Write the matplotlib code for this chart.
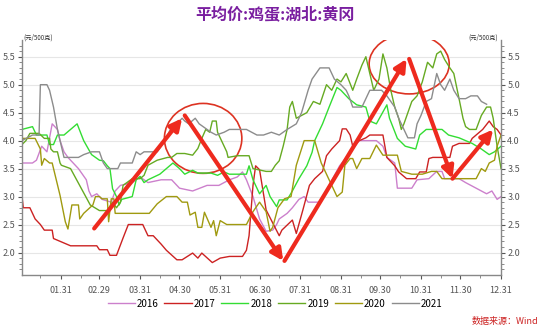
import matplotlib
matplotlib.use("Agg")
import matplotlib.pyplot as plt
from matplotlib.patches import Ellipse

plt.rcParams['font.family'] = ['Noto Sans CJK SC', 'DejaVu Sans']

# day of year (0 = Jan 1, leap-year base), price in 元/500克
d2016 = [0, 8, 11, 15, 19, 23, 27, 29, 32, 35, 43, 46, 49, 51, 53, 57, 61, 68, 71, 75, 84, 90, 96, 106, 114, 120, 130,
         141, 150, 158, 164, 168, 171, 176, 181, 186, 191, 194, 196, 202, 206, 211, 215, 218, 227, 234, 242, 252, 257,
         270, 275, 278, 284, 286, 297, 301, 310, 316, 320, 322, 333, 338, 346, 350, 354, 358, 362, 365]
v2016 = [3.6, 3.6, 3.65, 3.9, 3.8, 4.3, 4.2, 4.0, 3.8, 3.7, 3.5, 3.4, 3.3, 3.1, 3.0, 3.05, 2.95, 2.9, 3.1, 3.2, 3.25,
         3.35, 3.25, 3.3, 3.3, 3.15, 3.1, 3.2, 3.2, 3.3, 3.35, 3.44, 3.3, 3.0, 2.6, 2.38, 2.4, 2.5, 2.6, 2.7, 2.8, 2.95,
         3.0, 2.9, 2.9, 3.2, 3.55, 3.85, 4.0, 4.0, 3.9, 3.7, 3.6, 3.15, 3.15, 3.3, 3.32, 3.45, 3.45, 3.32, 3.32, 3.25,
         3.15, 3.1, 3.05, 3.1, 2.95, 3.0]

d2017 = [0, 1, 6, 8, 10, 14, 17, 23, 24, 29, 37, 57, 59, 65, 67, 72, 77, 81, 92, 96, 100, 106, 110, 118, 122, 130, 134,
         137, 145, 151, 158, 168, 171, 173, 176, 178, 181, 186, 196, 198, 206, 209, 214, 219, 223, 229, 232, 236, 242,
         244, 247, 250, 252, 257, 262, 265, 275, 278, 284, 287, 293, 300, 303, 308, 310, 313, 326, 328, 333, 341, 343,
         351, 356, 359, 362, 365]
v2017 = [3.0, 2.8, 2.8, 2.7, 2.6, 2.5, 2.4, 2.4, 2.25, 2.2, 2.12, 2.12, 2.05, 2.05, 1.95, 1.95, 2.26, 2.5, 2.5, 2.3, 2.3,
         2.15, 2.04, 1.87, 1.87, 1.99, 1.9, 1.99, 1.82, 1.9, 1.93, 1.93, 2.04, 2.3, 3.2, 3.55, 3.48, 2.76, 2.3, 2.4,
         2.58, 2.34, 2.76, 3.2, 3.32, 3.45, 3.73, 3.85, 4.0, 4.21, 4.21, 4.1, 3.9, 4.0, 4.05, 4.1, 4.1, 3.7, 3.55,
         3.44, 3.32, 3.32, 3.44, 3.44, 3.68, 3.7, 3.7, 3.9, 3.95, 3.95, 4.04, 4.2, 4.35, 4.25, 4.2, 4.1]

d2018 = [0, 8, 11, 19, 21, 24, 27, 32, 37, 42, 47, 53, 59, 62, 65, 67, 69, 72, 74, 76, 84, 87, 90, 93, 96, 105, 110,
         115, 120, 124, 130, 134, 144, 149, 154, 158, 171, 173, 176, 181, 186, 189, 194, 196, 202, 206, 211, 217, 221,
         223, 229, 234, 240, 243, 249, 255, 262, 265, 270, 278, 280, 286, 292, 300, 303, 308, 320, 325, 333, 343, 350,
         356, 360, 365]
v2018 = [4.2, 4.25, 4.1, 4.1, 3.93, 3.93, 4.1, 4.1, 4.2, 4.3, 4.0, 3.75, 3.65, 3.64, 3.55, 3.5, 3.14, 3.0, 2.85, 2.95,
         3.0, 3.3, 3.36, 3.25, 3.3, 3.4, 3.5, 3.6, 3.5, 3.4, 3.47, 3.42, 3.42, 3.38, 3.44, 3.4, 3.4, 3.55, 3.3, 3.05,
         3.2, 3.0, 2.82, 2.94, 2.94, 3.1, 3.32, 3.55, 3.79, 4.0, 4.3, 4.6, 4.95, 4.9, 4.75, 4.64, 4.6, 4.35, 4.3, 4.64,
         4.4, 4.04, 3.9, 3.85, 4.1, 4.2, 4.2, 4.1, 4.05, 3.95, 3.85, 3.75, 3.8, 3.9]

d2019 = [0, 3, 6, 13, 17, 21, 22, 24, 27, 29, 30, 37, 52, 59, 65, 69, 72, 75, 77, 84, 90, 93, 96, 103, 111, 114, 118,
         124, 130, 134, 137, 140, 143, 145, 148, 149, 152, 156, 157, 164, 173, 176, 186, 190, 193, 196, 199, 202, 204,
         206, 209, 213, 217, 222, 227, 232, 236, 240, 243, 247, 252, 255, 259, 262, 265, 268, 272, 275, 278, 281, 284,
         287, 289, 291, 294, 297, 301, 305, 309, 313, 316, 319, 322, 326, 329, 333, 336, 338, 341, 346, 350, 354, 357,
         359, 362, 365]
v2019 = [3.93, 4.0, 4.13, 4.13, 4.04, 4.04, 3.85, 3.8, 3.8, 3.6, 3.56, 3.5, 2.85, 2.75, 2.75, 2.9, 2.8, 2.9, 3.2, 3.32,
         3.32, 3.38, 3.56, 3.65, 3.7, 3.7, 3.77, 3.77, 3.74, 3.86, 4.04, 4.2, 4.15, 4.35, 4.35, 4.15, 4.0, 3.8, 3.7,
         3.73, 3.73, 3.5, 3.45, 3.45, 3.56, 3.64, 3.9, 4.2, 4.6, 4.7, 4.4, 4.45, 4.5, 4.7, 4.65, 5.0, 4.9, 5.1, 5.05,
         5.2, 4.9, 5.1, 5.35, 5.5, 5.2, 4.9, 5.1, 5.55, 5.3, 4.9, 4.6, 4.4, 4.2, 4.3, 4.5, 4.7, 4.8, 5.05, 5.4, 5.3,
         5.55, 5.6, 5.45, 5.3, 5.2, 4.75, 4.4, 4.25, 4.2, 4.2, 4.45, 4.6, 4.6, 4.4, 3.9, 3.5]

d2020 = [0, 10, 14, 15, 17, 21, 23, 29, 33, 35, 38, 43, 44, 47, 54, 56, 59, 61, 65, 66, 68, 70, 71, 97, 103, 110, 118,
         122, 126, 128, 132, 134, 137, 139, 144, 146, 148, 151, 156, 171, 176, 181, 186, 189, 191, 195, 200, 205, 209,
         215, 223, 228, 240, 244, 246, 250, 252, 255, 259, 265, 270, 275, 286, 289, 297, 305, 312, 316, 320, 346, 350,
         353, 356, 360, 362, 365]
v2020 = [4.04, 4.04, 3.85, 3.56, 3.68, 3.6, 3.6, 3.02, 2.55, 2.42, 2.85, 2.85, 2.6, 2.7, 2.85, 3.0, 3.0, 2.96, 2.96,
         2.55, 2.96, 2.96, 2.7, 2.7, 2.87, 3.0, 3.0, 2.9, 2.9, 2.67, 2.72, 2.45, 2.45, 2.72, 2.45, 2.57, 2.3, 2.57,
         2.5, 2.5, 2.73, 2.9, 2.73, 2.38, 2.45, 2.8, 2.96, 3.0, 3.56, 4.0, 4.0, 3.6, 3.0, 3.08, 3.56, 3.68, 3.68, 3.5,
         3.68, 3.68, 3.92, 3.74, 3.74, 3.45, 3.4, 3.4, 3.45, 3.45, 3.32, 3.32, 3.5, 3.45, 3.6, 3.65, 3.9, 4.1]

d2021 = [0, 8, 13, 14, 19, 21, 24, 27, 29, 32, 43, 47, 53, 59, 62, 65, 73, 75, 84, 87, 90, 93, 103, 106, 111, 114, 118,
         122, 124, 127, 132, 135, 141, 144, 148, 154, 158, 171, 179, 184, 190, 196, 202, 209, 213, 218, 221, 227, 234,
         238, 243, 247, 249, 252, 259, 262, 265, 274, 278, 284, 287, 291, 294, 299, 301, 304, 308, 312, 316, 319, 322,
         326, 329, 333, 338, 342, 347, 350, 354]
v2021 = [4.0, 4.1, 4.1, 5.0, 5.0, 4.9, 4.6, 4.2, 4.0, 3.7, 3.7, 3.75, 3.8, 3.8, 3.6, 3.5, 3.5, 3.6, 3.6, 3.8, 3.75, 3.8,
         3.8, 3.9, 4.1, 4.25, 4.3, 4.4, 4.35, 4.3, 4.4, 4.3, 4.2, 4.15, 4.1, 4.15, 4.2, 4.2, 4.1, 4.1, 4.15, 4.1, 4.2,
         4.3, 4.5, 4.9, 5.1, 5.3, 5.3, 5.1, 5.0, 4.9, 4.8, 4.6, 4.6, 4.75, 4.9, 4.9, 4.8, 4.6, 4.4, 4.2, 4.05, 4.05,
         4.3, 4.45, 4.7, 4.75, 5.2, 5.0, 4.9, 5.1, 4.9, 4.75, 4.75, 4.8, 4.8, 4.7, 4.65]

years = ['2016', '2017', '2018', '2019', '2020', '2021']
colors = ['#cc80cc', '#cc2222', '#33dd33', '#66aa22', '#a09a10', '#8c8c8c']
series = [(d2016, v2016), (d2017, v2017), (d2018, v2018), (d2019, v2019), (d2020, v2020), (d2021, v2021)]

tick_days = [30, 59, 90, 120, 151, 181, 212, 243, 273, 304, 334, 365]
tick_labels = ['01.31', '02.29', '03.31', '04.30', '05.31', '06.30', '07.31', '08.31', '09.30', '10.31', '11.30', '12.31']

# annotation arrows (start day, start value, end day, end value) and circles
arrows = [(55, 2.43, 122, 4.4), (124, 4.45, 199, 1.85), (200, 1.85, 293, 5.46),
          (295, 5.46, 328, 3.32), (328, 3.32, 359, 4.2)]
circles = [(138, 4.04, 59, 1.25), (295, 5.37, 61, 1.07)]

fig = plt.figure(figsize=(5.5, 3.3), dpi=100)
ax = fig.add_axes([0.04, 0.167, 0.871, 0.712])

for (d, v), yr, c in zip(series, years, colors):
    ax.plot(d, v, color=c, lw=1.0, label=yr)

for x0, y0, x1, y1 in arrows:
    ax.annotate('', xy=(x1, y1), xytext=(x0, y0),
                arrowprops=dict(arrowstyle='-|>,head_length=0.7,head_width=0.35', lw=3,
                                color='#ee2a1e', shrinkA=0, shrinkB=0))
for cx, cy, w, h in circles:
    ax.add_patch(Ellipse((cx, cy), w, h, fill=False, edgecolor='#dd3322', lw=1.2))

ax.set_xlim(0, 365)
ax.set_ylim(1.6, 5.8)
ax.set_xticks(tick_days)
ax.set_xticklabels(tick_labels)
ax.set_xticks([14, 45, 74, 105, 135, 166, 196, 227, 258, 288, 319, 349], minor=True)
ax.set_yticks([2.0, 2.5, 3.0, 3.5, 4.0, 4.5, 5.0, 5.5])
ax.set_yticks([x / 10 for x in range(17, 58)], minor=True)
ax.tick_params(axis='both', labelsize=6.5, colors='#555555', length=3, width=0.8)
ax.tick_params(axis='both', which='minor', length=2, colors='#777777')
ax.tick_params(axis='y', right=True, labelright=True, which='both', pad=1.5)
ax.tick_params(axis='x', pad=5)
ax.grid(axis='y', color='#e6e6e6', lw=0.8)
ax.set_axisbelow(True)
for s in ['left', 'right', 'bottom']:
    ax.spines[s].set_color('#888888')
    ax.spines[s].set_linewidth(1.0)
ax.spines['top'].set_visible(False)

fig.text(0.5, 0.955, '平均价:鸡蛋:湖北:黄冈', ha='center', va='center', fontsize=11.5,
         fontweight='bold', color='#7a1fa0')
fig.text(0.042, 0.875, '(元/500克)', fontsize=4.5, color='#333333', va='bottom')
fig.text(0.905, 0.875, '(元/500克)', fontsize=4.5, color='#333333', va='bottom', ha='right')
fig.text(0.978, 0.018, '数据来源：Wind', fontsize=6.5, color='#cc2222', style='italic', ha='right')

fig.legend(loc='center', bbox_to_anchor=(0.5, 0.08), ncol=6, frameon=False, fontsize=7,
           handlelength=2.8, handletextpad=0.2, columnspacing=0.6)

fig.savefig('out.png', dpi=100)
